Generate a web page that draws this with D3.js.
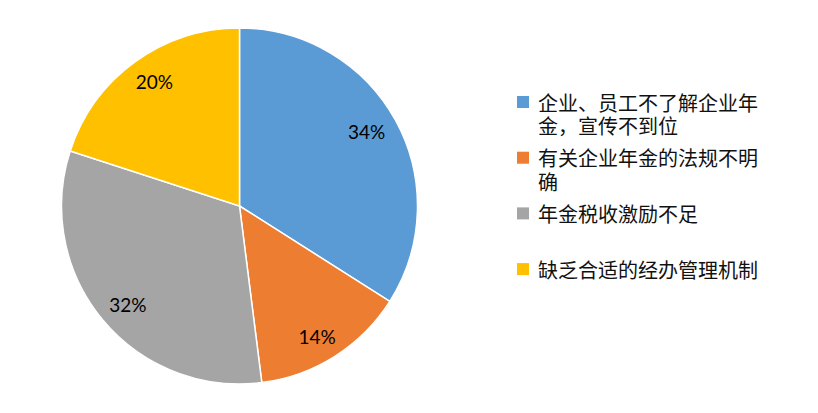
<!DOCTYPE html>
<html lang="zh">
<head>
    <meta charset="utf-8">
    <title>企业年金</title>
    <script type="text/javascript" src="https://d3js.org/d3.v7.min.js"></script>
    <style>
        body { margin: 0; background: #fff; }
        .pct { font-family: Lato, "Open Sans", sans-serif; font-size: 19px; fill: #000; }
        .legend text { font-family: "Noto Sans CJK SC", sans-serif; font-size: 20px; fill: #111; }
    </style>
</head>
<body>
<div id="pie-chart"></div>
<script type="text/javascript">
    // data
    const categories = ["企业、员工不了解企业年金，宣传不到位", "有关企业年金的法规不明确", "年金税收激励不足", "缺乏合适的经办管理机制"];
    const values = [34, 14, 32, 20];
    const colors = ["#5B9BD5", "#ED7D31", "#A5A5A5", "#FFC000"];

    const width = 818;
    const height = 413;
    const cx = 239.5, cy = 206, radius = 178;

    const svg = d3.select("#pie-chart")
        .append("svg")
        .attr("width", width)
        .attr("height", height);

    const dataset = categories.map((c, i) => ({name: c, value: values[i], color: colors[i]}));

    const pie = d3.pie().value(d => d.value).sort(null);
    const arc = d3.arc().innerRadius(0).outerRadius(radius);
    // unit arc, centroid scaled so labels sit like excel's
    const unitArc = d3.arc().innerRadius(1).outerRadius(1);

    const g = svg.append("g").attr("transform", `translate(${cx},${cy})`);

    const arcs = pie(dataset);

    g.selectAll("path")
        .data(arcs)
        .enter()
        .append("path")
        .attr("d", arc)
        .attr("fill", d => d.data.color)
        .attr("stroke", "#fff")
        .attr("stroke-width", 1.5);

    g.selectAll("text.pct")
        .data(arcs)
        .enter()
        .append("text")
        .attr("class", "pct")
        .attr("x", d => unitArc.centroid(d)[0] * 145)
        .attr("y", d => unitArc.centroid(d)[1] * 154)
        .attr("text-anchor", "middle")
        .attr("dominant-baseline", "central")
        .text(d => d.value + "%");

    // legend
    const lineLen = 11;
    const legend = svg.append("g").attr("class", "legend");
    const item = legend.selectAll("g")
        .data(dataset)
        .enter()
        .append("g")
        .attr("transform", (d, i) => `translate(517, ${102 + i * 55.7})`);

    item.append("rect")
        .attr("x", 0)
        .attr("y", -6)
        .attr("width", 12)
        .attr("height", 12)
        .attr("fill", d => d.color);

    item.each(function(d) {
        const lines = [];
        for (let k = 0; k < d.name.length; k += lineLen) lines.push(d.name.slice(k, k + lineLen));
        d3.select(this).selectAll("text")
            .data(lines)
            .enter()
            .append("text")
            .attr("x", 21)
            .attr("y", (l, j) => j * 23.8)
            .attr("dominant-baseline", "central")
            .text(l => l);
    });
</script>
</body>
</html>
